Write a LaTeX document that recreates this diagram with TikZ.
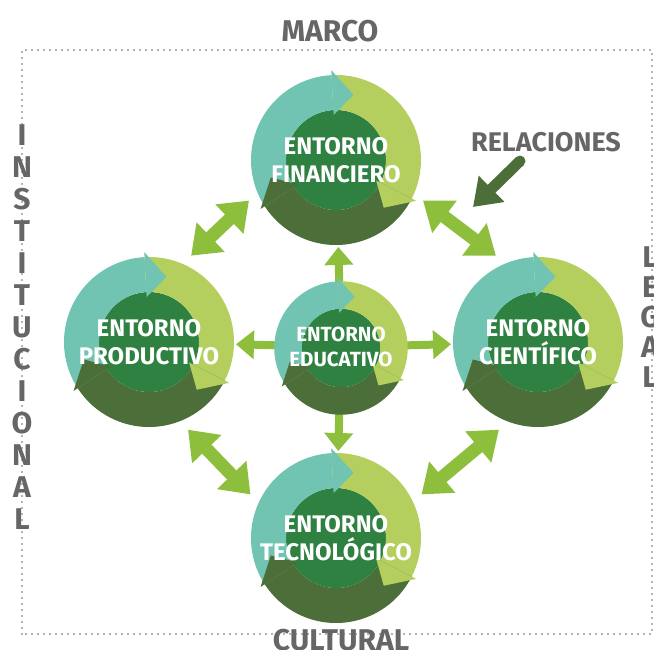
\documentclass[tikz,border=0pt]{standalone}
\usepackage{fontspec}
\setmainfont{Fira Sans}
\usetikzlibrary{arrows.meta,backgrounds}

\definecolor{turquesa}{HTML}{72C4B2}
\definecolor{verdeclaro}{HTML}{B5CF5E}
\definecolor{verdeoscuro}{HTML}{4C6E38}
\definecolor{verdecentro}{HTML}{2E8140}
\definecolor{verdeflecha}{HTML}{8DBF3D}
\definecolor{grismarco}{HTML}{666666}

\tikzset{
  % anillo de tres flechas alrededor del circulo central
  anillo/.pic={
    \fill[verdecentro] (0,0) circle (50);
    \fill[turquesa] (213:85) arc[start angle=213, end angle=93, radius=85]
      -- (93:50) arc[start angle=93, end angle=213, radius=50] -- cycle;
    \fill[verdeclaro] (93:85) arc[start angle=93, end angle=-27, radius=85]
      -- (-27:50) arc[start angle=-27, end angle=93, radius=50] -- cycle;
    \fill[verdeoscuro] (-27:85) arc[start angle=-27, end angle=-147, radius=85]
      -- (-147:50) arc[start angle=-147, end angle=-27, radius=50] -- cycle;
    \fill[turquesa] (93:90) -- (75:67.5) -- (93:45) -- cycle;
    \fill[verdeclaro] (-27:90) -- (-45:67.5) -- (-27:45) -- cycle;
    \fill[verdeoscuro] (213:90) -- (195:67.5) -- (213:45) -- cycle;
  },
  entorno/.style={circle, minimum size=180pt, inner sep=0pt, outer sep=6pt,
    align=center, text=white, font=\fontsize{24}{28}\selectfont\bfseries},
  educativo/.style={circle, minimum size=140pt, inner sep=0pt,
    align=center, text=white, font=\fontsize{20.5}{25}\selectfont\bfseries},
  relacion/.style={line width=13pt, draw=verdeflecha, <->,
    >={Triangle[length=27pt,width=39pt]}},
  flujo/.style={line width=8pt, draw=verdeflecha, ->, shorten >=-9pt,
    >={Triangle[length=18pt,width=28pt]}},
  senal/.style={line width=11pt, draw=verdeoscuro, line cap=round, ->,
    >={Triangle[length=26pt,width=35pt]}},
  marco/.style={draw=grismarco, line width=1.8pt, dash pattern=on 0pt off 6pt, line cap=round},
  rotulo/.style={text=grismarco, font=\fontsize{30}{32}\selectfont\bfseries, inner sep=0pt, align=center},
}

\begin{document}
\begin{tikzpicture}[x=1pt,y=1pt]
  \useasboundingbox (0,0) rectangle (654,649);
  % marco
  \draw[marco] (22,15) rectangle (652,599);
  \node[rotulo] (marco) at (330,618) {MARCO};
  \node[rotulo] (institucional) at (22,322) {I\\N\\S\\T\\I\\T\\U\\C\\I\\O\\N\\A\\L};
  \node[rotulo, font=\fontsize{30}{30}\selectfont\bfseries] (legal) at (650,332) {L\\E\\G\\A\\L};
  \node[rotulo] (cultural) at (341,9) {CULTURAL};
  % entornos
  \pic at (336,489) {anillo};
  \pic at (149,307) {anillo};
  \pic at (538,307) {anillo};
  \pic at (336,111) {anillo};
  \pic[scale=0.785] at (341,301) {anillo};
  \node[entorno] (fin) at (336,489) {ENTORNO\\FINANCIERO};
  \node[entorno] (prod) at (149,307) {ENTORNO\\PRODUCTIVO};
  \node[entorno] (cien) at (538,307) {ENTORNO\\CIENTÍFICO};
  \node[entorno] (tec) at (336,111) {ENTORNO\\TECNOLÓGICO};
  \node[educativo] (edu) at (341,302) {ENTORNO\\EDUCATIVO};
  % relaciones
  \begin{scope}[on background layer]
    \draw[relacion] (fin.205) -- (prod.64);
    \draw[relacion] (fin.-25) -- (cien.116);
    \draw[relacion] (prod.-66) -- (tec.153);
    \draw[relacion] (cien.246) -- (tec.27);
    \draw[flujo] (edu.center) -- (fin);
    \draw[flujo] (edu.center) -- (prod);
    \draw[flujo] (edu.center) -- (cien);
    \draw[flujo] (edu.center) -- (tec);
  \end{scope}
  \node[rotulo, font=\fontsize{27}{27}\selectfont\bfseries] (rel) at (546,507) {RELACIONES};
  \coordinate (relpunta) at (473,442);
  \draw[senal] ([xshift=-26pt,yshift=-9pt]rel.south) -- (relpunta);
\end{tikzpicture}
\end{document}
